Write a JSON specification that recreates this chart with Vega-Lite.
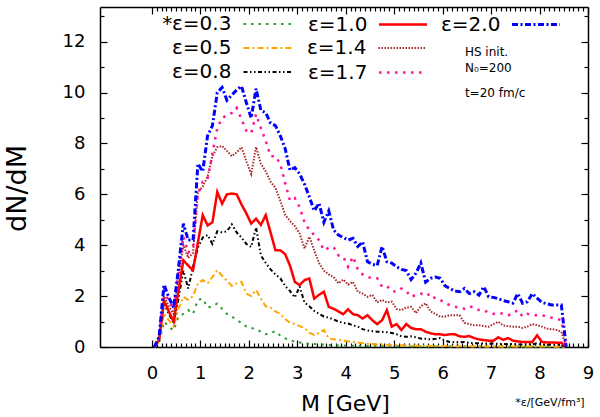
{
"$schema": "https://vega.github.io/schema/vega-lite/v6.json",
"width": 488, "height": 340,
"autosize": {"type": "none"},
"padding": {"left": 100, "top": 7, "right": 12, "bottom": 70},
"background": "white",
"config": {
 "view": {"stroke": null},
 "axis": {"grid": false, "domainColor": "#000", "domainWidth": 1.5, "tickColor": "#000", "tickWidth": 1.2, "labelFont": "DejaVu Sans", "labelFontSize": 18, "labelColor": "#000", "titleFont": "DejaVu Sans", "titleColor": "#000", "titleFontWeight": "normal", "labelFlush": false, "labelOverlap": false},
 "legend": {"orient": "none", "labelFont": "DejaVu Sans", "labelFontSize": 20, "labelColor": "#000", "symbolSize": 2304, "labelOffset": -120.5, "symbolOffset": 70.5, "padding": 0, "symbolType": "stroke"},
 "text": {"font": "DejaVu Sans", "color": "#000"}
},
"data": {"values": [
{"m":0.05,"a":0,"b":0,"c":0,"d":0,"e":0,"f":0,"g":0},
{"m":0.15,"a":0.15,"b":0.2,"c":0.25,"d":0.3,"e":0.3,"f":0.35,"g":0.4},
{"m":0.25,"a":1.0,"b":1.32,"c":1.7,"d":1.83,"e":2.0,"f":2.2,"g":2.45},
{"m":0.35,"a":0.8,"b":1.05,"c":1.3,"d":1.4,"e":1.6,"f":1.8,"g":1.95},
{"m":0.45,"a":0.65,"b":0.8,"c":0.95,"d":1.0,"e":1.3,"f":1.5,"g":1.55},
{"m":0.55,"a":1.2,"b":1.5,"c":1.9,"d":2.2,"e":2.8,"f":3.0,"g":3.1},
{"m":0.65,"a":1.3,"b":1.97,"c":3.0,"d":3.41,"e":4.0,"f":4.35,"g":4.85},
{"m":0.75,"a":1.45,"b":1.85,"c":2.3,"d":3.2,"e":3.5,"f":3.7,"g":4.2},
{"m":0.85,"a":1.3,"b":2.0,"c":3.15,"d":3.02,"e":3.7,"f":3.95,"g":4.2},
{"m":0.95,"a":1.85,"b":2.5,"c":3.9,"d":4.1,"e":6.1,"f":6.0,"g":7.2},
{"m":1.05,"a":1.9,"b":2.63,"c":4.3,"d":5.18,"e":6.3,"f":6.5,"g":6.9},
{"m":1.15,"a":1.55,"b":2.5,"c":4.4,"d":4.78,"e":6.7,"f":6.6,"g":8.3},
{"m":1.25,"a":1.6,"b":2.75,"c":4.05,"d":4.9,"e":7.5,"f":7.6,"g":8.7},
{"m":1.35,"a":1.71,"b":3.02,"c":4.55,"d":6.09,"e":7.85,"f":8.6,"g":10.0},
{"m":1.45,"a":1.5,"b":2.8,"c":4.5,"d":5.63,"e":7.9,"f":9.0,"g":10.2},
{"m":1.55,"a":1.3,"b":2.6,"c":4.55,"d":6.0,"e":7.7,"f":9.1,"g":9.7},
{"m":1.65,"a":1.2,"b":2.4,"c":4.82,"d":6.03,"e":7.5,"f":9.2,"g":9.9},
{"m":1.75,"a":1.06,"b":2.5,"c":4.5,"d":6.0,"e":7.65,"f":9.4,"g":10.1},
{"m":1.85,"a":0.95,"b":2.56,"c":4.3,"d":5.6,"e":7.85,"f":8.95,"g":10.25},
{"m":1.95,"a":0.8,"b":2.1,"c":4.05,"d":5.25,"e":7.3,"f":8.5,"g":9.6},
{"m":2.05,"a":0.75,"b":2.0,"c":3.93,"d":4.85,"e":6.8,"f":8.4,"g":9.0},
{"m":2.15,"a":0.7,"b":2.24,"c":4.7,"d":5.04,"e":7.86,"f":9.15,"g":10.15},
{"m":2.25,"a":0.6,"b":1.9,"c":3.6,"d":4.8,"e":7.2,"f":8.6,"g":9.3},
{"m":2.35,"a":0.5,"b":1.6,"c":3.3,"d":5.18,"e":6.9,"f":8.1,"g":9.2},
{"m":2.45,"a":0.55,"b":1.55,"c":3.05,"d":4.5,"e":6.5,"f":7.5,"g":8.8},
{"m":2.55,"a":0.62,"b":1.4,"c":2.85,"d":3.8,"e":6.25,"f":7.5,"g":8.7},
{"m":2.65,"a":0.45,"b":1.3,"c":2.7,"d":3.8,"e":5.75,"f":7.2,"g":8.3},
{"m":2.75,"a":0.34,"b":1.1,"c":2.4,"d":3.65,"e":5.2,"f":6.45,"g":7.8},
{"m":2.85,"a":0.28,"b":0.95,"c":2.2,"d":3.2,"e":4.95,"f":5.75,"g":6.95},
{"m":2.95,"a":0.2,"b":0.9,"c":1.95,"d":2.56,"e":4.75,"f":5.85,"g":7.05},
{"m":3.05,"a":0.18,"b":0.82,"c":2.37,"d":2.43,"e":4.45,"f":5.5,"g":6.8},
{"m":3.15,"a":0.15,"b":0.75,"c":1.75,"d":2.63,"e":3.87,"f":4.9,"g":6.4},
{"m":3.25,"a":0.13,"b":0.55,"c":1.6,"d":2.69,"e":4.33,"f":4.6,"g":5.9},
{"m":3.35,"a":0.12,"b":0.47,"c":1.42,"d":1.9,"e":3.8,"f":4.4,"g":5.35},
{"m":3.45,"a":0.1,"b":0.55,"c":1.3,"d":2.05,"e":3.3,"f":4.2,"g":5.65},
{"m":3.55,"a":0.1,"b":0.67,"c":1.2,"d":2.17,"e":3.0,"f":3.8,"g":4.9},
{"m":3.65,"a":0.08,"b":0.34,"c":1.15,"d":1.58,"e":2.85,"f":3.9,"g":5.35},
{"m":3.75,"a":0.07,"b":0.3,"c":1.08,"d":1.5,"e":2.75,"f":3.93,"g":4.6},
{"m":3.85,"a":0.06,"b":0.28,"c":1.0,"d":1.4,"e":2.5,"f":3.6,"g":4.4},
{"m":3.95,"a":0.06,"b":0.25,"c":0.95,"d":1.29,"e":2.65,"f":3.55,"g":4.3},
{"m":4.05,"a":0.05,"b":0.22,"c":0.92,"d":1.48,"e":2.45,"f":3.15,"g":4.2},
{"m":4.15,"a":0.05,"b":0.2,"c":0.85,"d":1.29,"e":2.56,"f":3.55,"g":4.27},
{"m":4.25,"a":0.05,"b":0.18,"c":0.8,"d":1.25,"e":2.17,"f":3.05,"g":3.95},
{"m":4.35,"a":0.04,"b":0.15,"c":0.7,"d":1.12,"e":2.1,"f":2.85,"g":4.13},
{"m":4.45,"a":0.04,"b":0.13,"c":0.65,"d":1.25,"e":1.97,"f":2.75,"g":3.35},
{"m":4.55,"a":0.04,"b":0.12,"c":0.62,"d":1.05,"e":2.05,"f":2.7,"g":3.25},
{"m":4.65,"a":0.04,"b":0.1,"c":0.6,"d":0.9,"e":1.75,"f":2.7,"g":3.2},
{"m":4.75,"a":0.03,"b":0.1,"c":0.6,"d":1.05,"e":1.85,"f":2.37,"g":3.95},
{"m":4.85,"a":0.03,"b":0.09,"c":0.58,"d":1.45,"e":1.75,"f":2.4,"g":3.35},
{"m":4.95,"a":0.03,"b":0.08,"c":0.55,"d":0.8,"e":1.78,"f":2.2,"g":3.3},
{"m":5.05,"a":0.03,"b":0.08,"c":0.5,"d":0.9,"e":1.5,"f":2.17,"g":3.15},
{"m":5.15,"a":0.03,"b":0.07,"c":0.42,"d":0.67,"e":1.45,"f":2.3,"g":3.05},
{"m":5.25,"a":0.03,"b":0.06,"c":0.4,"d":0.9,"e":1.55,"f":2.2,"g":3.0},
{"m":5.35,"a":0.02,"b":0.06,"c":0.42,"d":0.75,"e":1.58,"f":1.97,"g":2.65},
{"m":5.45,"a":0.02,"b":0.05,"c":0.38,"d":0.7,"e":1.33,"f":2.05,"g":2.9},
{"m":5.55,"a":0.02,"b":0.05,"c":0.33,"d":0.7,"e":1.6,"f":2.1,"g":3.3},
{"m":5.65,"a":0.02,"b":0.05,"c":0.32,"d":0.6,"e":1.72,"f":2.0,"g":2.55},
{"m":5.75,"a":0.02,"b":0.04,"c":0.3,"d":0.54,"e":1.4,"f":2.1,"g":2.7},
{"m":5.85,"a":0.02,"b":0.04,"c":0.32,"d":0.5,"e":1.3,"f":1.9,"g":2.75},
{"m":5.95,"a":0.02,"b":0.04,"c":0.35,"d":0.5,"e":1.19,"f":1.85,"g":2.7},
{"m":6.05,"a":0.02,"b":0.04,"c":0.25,"d":0.47,"e":1.2,"f":1.72,"g":2.4},
{"m":6.15,"a":0.02,"b":0.03,"c":0.2,"d":0.5,"e":1.25,"f":1.65,"g":2.3},
{"m":6.25,"a":0.02,"b":0.03,"c":0.2,"d":0.5,"e":1.25,"f":1.58,"g":2.2},
{"m":6.35,"a":0.02,"b":0.03,"c":0.18,"d":0.42,"e":1.25,"f":1.55,"g":2.17},
{"m":6.45,"a":0.02,"b":0.03,"c":0.2,"d":0.4,"e":0.95,"f":1.5,"g":2.3},
{"m":6.55,"a":0.01,"b":0.03,"c":0.16,"d":0.43,"e":0.9,"f":1.6,"g":2.1},
{"m":6.65,"a":0.01,"b":0.03,"c":0.15,"d":0.35,"e":0.85,"f":1.55,"g":2.17},
{"m":6.75,"a":0.01,"b":0.03,"c":0.15,"d":0.3,"e":0.85,"f":1.45,"g":2.04},
{"m":6.85,"a":0.01,"b":0.02,"c":0.14,"d":0.27,"e":0.82,"f":1.45,"g":2.37},
{"m":6.95,"a":0.01,"b":0.02,"c":0.13,"d":0.25,"e":0.8,"f":1.35,"g":1.97},
{"m":7.05,"a":0.01,"b":0.02,"c":0.14,"d":0.25,"e":0.9,"f":1.3,"g":1.95},
{"m":7.15,"a":0.01,"b":0.02,"c":0.12,"d":0.38,"e":0.99,"f":1.35,"g":1.9},
{"m":7.25,"a":0.01,"b":0.02,"c":0.12,"d":0.28,"e":0.85,"f":1.3,"g":1.82},
{"m":7.35,"a":0.01,"b":0.02,"c":0.11,"d":0.35,"e":0.82,"f":1.25,"g":1.78},
{"m":7.45,"a":0.01,"b":0.02,"c":0.12,"d":0.25,"e":0.8,"f":1.3,"g":1.72},
{"m":7.55,"a":0.01,"b":0.02,"c":0.1,"d":0.22,"e":0.8,"f":1.45,"g":2.1},
{"m":7.65,"a":0.01,"b":0.02,"c":0.1,"d":0.2,"e":0.75,"f":1.2,"g":1.72},
{"m":7.75,"a":0.01,"b":0.02,"c":0.11,"d":0.2,"e":0.8,"f":1.3,"g":1.78},
{"m":7.85,"a":0.01,"b":0.02,"c":0.1,"d":0.2,"e":0.9,"f":1.25,"g":2.1},
{"m":7.95,"a":0.01,"b":0.02,"c":0.15,"d":0.46,"e":0.86,"f":1.25,"g":1.92},
{"m":8.05,"a":0.01,"b":0.02,"c":0.1,"d":0.2,"e":0.8,"f":1.25,"g":1.75},
{"m":8.15,"a":0.01,"b":0.02,"c":0.09,"d":0.18,"e":0.72,"f":1.2,"g":1.7},
{"m":8.25,"a":0.01,"b":0.02,"c":0.1,"d":0.18,"e":0.7,"f":1.15,"g":1.65},
{"m":8.35,"a":0.01,"b":0.01,"c":0.09,"d":0.17,"e":0.67,"f":1.1,"g":1.65},
{"m":8.45,"a":0.01,"b":0.01,"c":0.08,"d":0.17,"e":0.6,"f":1.06,"g":1.65},
{"m":8.55,"a":0,"b":0,"c":0,"d":0,"e":0,"f":0,"g":0}
]},
"layer": [
 {"mark": {"type": "line", "strokeWidth": 2, "clip": false},
  "encoding": {
   "x": {"field": "m", "type": "quantitative", "scale": {"domain": [-1.07, 9.0], "nice": false, "zero": false},
         "axis": {"orient": "bottom", "values": [0,1,2,3,4,5,6,7,8,9], "format": "d", "tickSize": -7, "labelPadding": 24, "title": "M [GeV]", "titleFontSize": 22, "titleX": 245, "titleY": 56, "titleAlign": "center", "titleBaseline": "middle"}},
   "y": {"field": "a", "type": "quantitative", "scale": {"domain": [0, 13.36], "nice": false, "zero": false},
         "axis": {"orient": "left", "values": [0,2,4,6,8,10,12], "format": "d", "tickSize": -7, "labelPadding": 22, "title": "dN/dM", "titleFontSize": 27, "titleX": -83, "titleY": 181, "titleAngle": -90, "titleAlign": "center", "titleBaseline": "middle"}},
   "color": {"datum": "ε=0.3", "scale": {"range": ["#2f9a2f"]}, "legend": {"title": null, "legendX": 72, "legendY": -8, "symbolStrokeWidth": 2}},
   "strokeDash": {"datum": "ε=0.3", "scale": {"range": [[2.5, 5]]}, "legend": {"title": null, "legendX": 72, "legendY": -8, "symbolStrokeWidth": 2}}
  }},
 {"mark": {"type": "line", "strokeWidth": 2, "clip": false},
  "encoding": {
   "x": {"field": "m", "type": "quantitative", "scale": {"domain": [-1.07, 9.0], "nice": false, "zero": false},
         "axis": {"orient": "top", "values": [0,1,2,3,4,5,6,7,8,9], "tickSize": -7, "labels": false, "title": null}},
   "y": {"field": "b", "type": "quantitative", "scale": {"domain": [0, 13.36], "nice": false, "zero": false},
         "axis": {"orient": "right", "values": [0,2,4,6,8,10,12], "tickSize": -7, "labels": false, "title": null}},
   "color": {"datum": "ε=0.5", "scale": {"range": ["#ffa500"]}, "legend": {"title": null, "legendX": 72, "legendY": 16, "symbolStrokeWidth": 2}},
   "strokeDash": {"datum": "ε=0.5", "scale": {"range": [[6, 3, 2, 3]]}, "legend": {"title": null, "legendX": 72, "legendY": 16, "symbolStrokeWidth": 2}}
  }},
 {"mark": {"type": "line", "strokeWidth": 2, "clip": false},
  "encoding": {
   "x": {"field": "m", "type": "quantitative", "scale": {"domain": [-1.07, 9.0], "nice": false, "zero": false},
         "axis": {"orient": "bottom", "values": [0.1,0.2,0.3,0.4,0.5,0.6,0.7,0.8,0.9,1.1,1.2,1.3,1.4,1.5,1.6,1.7,1.8,1.9,2.1,2.2,2.3,2.4,2.5,2.6,2.7,2.8,2.9,3.1,3.2,3.3,3.4,3.5,3.6,3.7,3.8,3.9,4.1,4.2,4.3,4.4,4.5,4.6,4.7,4.8,4.9,5.1,5.2,5.3,5.4,5.5,5.6,5.7,5.8,5.9,6.1,6.2,6.3,6.4,6.5,6.6,6.7,6.8,6.9,7.1,7.2,7.3,7.4,7.5,7.6,7.7,7.8,7.9,8.1,8.2,8.3,8.4,8.5,8.6,8.7,8.8,8.9], "tickSize": -4, "labels": false, "domain": false, "title": null}},
   "y": {"field": "c", "type": "quantitative", "scale": {"domain": [0, 13.36], "nice": false, "zero": false},
         "axis": {"orient": "left", "values": [1,3,5,7,9,11,13], "tickSize": -4, "labels": false, "domain": false, "title": null}},
   "color": {"datum": "ε=0.8", "scale": {"range": ["#000000"]}, "legend": {"title": null, "legendX": 72, "legendY": 40, "symbolStrokeWidth": 2}},
   "strokeDash": {"datum": "ε=0.8", "scale": {"range": [[4, 2.5, 1.5, 2.5, 1.5, 2.5]]}, "legend": {"title": null, "legendX": 72, "legendY": 40, "symbolStrokeWidth": 2}}
  }},
 {"mark": {"type": "line", "strokeWidth": 2.5, "clip": false},
  "encoding": {
   "x": {"field": "m", "type": "quantitative", "scale": {"domain": [-1.07, 9.0], "nice": false, "zero": false},
         "axis": {"orient": "top", "values": [0.1,0.2,0.3,0.4,0.5,0.6,0.7,0.8,0.9,1.1,1.2,1.3,1.4,1.5,1.6,1.7,1.8,1.9,2.1,2.2,2.3,2.4,2.5,2.6,2.7,2.8,2.9,3.1,3.2,3.3,3.4,3.5,3.6,3.7,3.8,3.9,4.1,4.2,4.3,4.4,4.5,4.6,4.7,4.8,4.9,5.1,5.2,5.3,5.4,5.5,5.6,5.7,5.8,5.9,6.1,6.2,6.3,6.4,6.5,6.6,6.7,6.8,6.9,7.1,7.2,7.3,7.4,7.5,7.6,7.7,7.8,7.9,8.1,8.2,8.3,8.4,8.5,8.6,8.7,8.8,8.9], "tickSize": -4, "labels": false, "domain": false, "title": null}},
   "y": {"field": "d", "type": "quantitative", "scale": {"domain": [0, 13.36], "nice": false, "zero": false},
         "axis": {"orient": "right", "values": [1,3,5,7,9,11,13], "tickSize": -4, "labels": false, "domain": false, "title": null}},
   "color": {"datum": "ε=1.0", "scale": {"range": ["#ff0000"]}, "legend": {"title": null, "legendX": 207, "legendY": -8, "symbolStrokeWidth": 2.5}},
   "strokeDash": {"datum": "ε=1.0", "scale": {"range": [[1, 0]]}, "legend": {"title": null, "legendX": 207, "legendY": -8, "symbolStrokeWidth": 2.5}}
  }},
 {"mark": {"type": "line", "strokeWidth": 2, "clip": false},
  "encoding": {
   "x": {"field": "m", "type": "quantitative", "scale": {"domain": [-1.07, 9.0], "nice": false, "zero": false}, "axis": null},
   "y": {"field": "e", "type": "quantitative", "scale": {"domain": [0, 13.36], "nice": false, "zero": false}, "axis": null},
   "color": {"datum": "ε=1.4", "scale": {"range": ["#a52a2a"]}, "legend": {"title": null, "legendX": 207, "legendY": 16, "symbolStrokeWidth": 2}},
   "strokeDash": {"datum": "ε=1.4", "scale": {"range": [[1.5, 1.5]]}, "legend": {"title": null, "legendX": 207, "legendY": 16, "symbolStrokeWidth": 2}}
  }},
 {"mark": {"type": "line", "strokeWidth": 2.5, "clip": false},
  "encoding": {
   "x": {"field": "m", "type": "quantitative", "scale": {"domain": [-1.07, 9.0], "nice": false, "zero": false}, "axis": null},
   "y": {"field": "f", "type": "quantitative", "scale": {"domain": [0, 13.36], "nice": false, "zero": false}, "axis": null},
   "color": {"datum": "ε=1.7", "scale": {"range": ["#ff1493"]}, "legend": {"title": null, "legendX": 207, "legendY": 40, "symbolStrokeWidth": 2.5}},
   "strokeDash": {"datum": "ε=1.7", "scale": {"range": [[2.5, 5.5]]}, "legend": {"title": null, "legendX": 207, "legendY": 40, "symbolStrokeWidth": 2.5}}
  }},
 {"mark": {"type": "line", "strokeWidth": 3, "clip": false},
  "encoding": {
   "x": {"field": "m", "type": "quantitative", "scale": {"domain": [-1.07, 9.0], "nice": false, "zero": false}, "axis": null},
   "y": {"field": "g", "type": "quantitative", "scale": {"domain": [0, 13.36], "nice": false, "zero": false}, "axis": null},
   "color": {"datum": "ε=2.0", "scale": {"range": ["#0000ff"]}, "legend": {"title": null, "legendX": 340, "legendY": -8, "symbolStrokeWidth": 3}},
   "strokeDash": {"datum": "ε=2.0", "scale": {"range": [[6, 2.5, 2, 2.5]]}, "legend": {"title": null, "legendX": 340, "legendY": -8, "symbolStrokeWidth": 3}}
  }},
 {"data": {"values": [{"t": "*"}]},
  "mark": {"type": "text", "align": "right", "baseline": "middle", "fontSize": 20},
  "encoding": {
   "text": {"field": "t"},
   "x": {"datum": 0.42, "type": "quantitative", "scale": {"domain": [-1.07, 9.0], "nice": false, "zero": false}, "axis": null},
   "y": {"datum": 12.7, "type": "quantitative", "scale": {"domain": [0, 13.36], "nice": false, "zero": false}, "axis": null}
  }},
 {"data": {"values": [{"t": "HS init."}]},
  "mark": {"type": "text", "align": "left", "baseline": "middle", "fontSize": 12},
  "encoding": {
   "text": {"field": "t"},
   "x": {"datum": 6.46, "type": "quantitative", "scale": {"domain": [-1.07, 9.0], "nice": false, "zero": false}, "axis": null},
   "y": {"datum": 11.6, "type": "quantitative", "scale": {"domain": [0, 13.36], "nice": false, "zero": false}, "axis": null}
  }},
 {"data": {"values": [{"t": "N₀=200"}]},
  "mark": {"type": "text", "align": "left", "baseline": "middle", "fontSize": 12},
  "encoding": {
   "text": {"field": "t"},
   "x": {"datum": 6.46, "type": "quantitative", "scale": {"domain": [-1.07, 9.0], "nice": false, "zero": false}, "axis": null},
   "y": {"datum": 10.98, "type": "quantitative", "scale": {"domain": [0, 13.36], "nice": false, "zero": false}, "axis": null}
  }},
 {"data": {"values": [{"t": "t=20 fm/c"}]},
  "mark": {"type": "text", "align": "left", "baseline": "middle", "fontSize": 12},
  "encoding": {
   "text": {"field": "t"},
   "x": {"datum": 6.46, "type": "quantitative", "scale": {"domain": [-1.07, 9.0], "nice": false, "zero": false}, "axis": null},
   "y": {"datum": 10.0, "type": "quantitative", "scale": {"domain": [0, 13.36], "nice": false, "zero": false}, "axis": null}
  }},
 {"data": {"values": [{"t": "*ε/[GeV/fm³]"}]},
  "mark": {"type": "text", "align": "right", "baseline": "middle", "fontSize": 11},
  "encoding": {
   "text": {"field": "t"},
   "x": {"datum": 8.93, "type": "quantitative", "scale": {"domain": [-1.07, 9.0], "nice": false, "zero": false}, "axis": null},
   "y": {"datum": -2.2, "type": "quantitative", "scale": {"domain": [0, 13.36], "nice": false, "zero": false}, "axis": null}
  }}
],
"resolve": {"scale": {"color": "independent", "strokeDash": "independent"}, "axis": {"x": "independent", "y": "independent"}}
}
